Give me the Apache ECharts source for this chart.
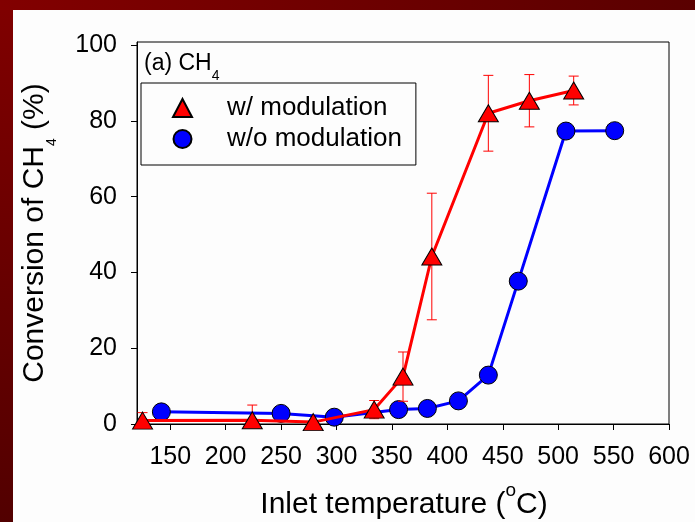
<!DOCTYPE html>
<html>
<head>
<meta charset="utf-8">
<script src="https://cdn.jsdelivr.net/npm/echarts@6/dist/echarts.min.js"></script>
<style>
  html, body { margin: 0; padding: 0; background: #fdfdfd; }
  #chart { width: 695px; height: 522px; }
</style>
</head>
<body>
<div id="chart"></div>
<script>
// w/ modulation (red triangles, with error bars)
const redX = [125, 224, 279, 334, 360, 386, 437, 474, 514]
const redY = [0.9, 1.0, 0.5, 3.8, 12.5, 44.2, 82.0, 85.3, 88.0]
const redErr = [2.1, 4.0, 0, 2.4, 6.5, 16.7, 10.0, 6.9, 3.8]

// w/o modulation (blue circles)
const blueX = [142, 250, 298, 356, 382, 410, 437, 464, 507, 551]
const blueY = [3.2, 2.8, 1.8, 3.8, 4.1, 6.1, 12.9, 37.7, 77.3, 77.4]

const xTicks = [150, 200, 250, 300, 350, 400, 450, 500, 550, 600]
const yTicks = [0, 20, 40, 60, 80, 100]

const FONT = '"Liberation Sans", Arial, sans-serif'

const redData = redX.map((x, i) => [x, redY[i]])
const blueData = blueX.map((x, i) => [x, blueY[i]])
const errData = redX
  .map((x, i) => [x, redY[i] - redErr[i], redY[i] + redErr[i], redErr[i]])
  .filter(d => d[3] > 0)

const chart = echarts.init(document.getElementById('chart'))

const option = {
  animation: false,
  backgroundColor: '#fdfdfd',
  textStyle: { fontFamily: FONT },
  grid: {
    left: 137,
    right: 26,
    top: 42,
    bottom: 98,
    show: true,
    borderColor: '#000',
    borderWidth: 1,
    outerBoundsMode: 'none'
  },
  legend: {
    orient: 'vertical',
    left: 141,
    top: 83,
    padding: [12, 14, 13, 31],
    itemGap: 5,
    itemWidth: 19,
    itemHeight: 18,
    selectedMode: false,
    borderColor: '#000',
    borderWidth: 1,
    textStyle: {
      fontFamily: FONT,
      fontSize: 26,
      color: '#000',
      padding: [0, 0, 0, 30]
    },
    data: [
      { name: 'w/ modulation', icon: 'triangle' },
      { name: 'w/o modulation', icon: 'circle' }
    ]
  },
  xAxis: {
    type: 'value',
    min: 120,
    max: 600,
    splitLine: { show: false },
    axisLine: { lineStyle: { color: '#000', width: 1 } },
    axisTick: {
      customValues: xTicks,
      length: 6,
      lineStyle: { color: '#000', width: 1 }
    },
    axisLabel: {
      customValues: xTicks,
      margin: 21,
      fontSize: 25,
      color: '#000',
      fontFamily: FONT
    }
  },
  yAxis: {
    type: 'value',
    min: 0,
    max: 100.8,
    splitLine: { show: false },
    axisLine: { show: true, lineStyle: { color: '#000', width: 1 } },
    axisTick: {
      show: true,
      customValues: yTicks,
      length: 6,
      lineStyle: { color: '#000', width: 1 }
    },
    axisLabel: {
      customValues: yTicks,
      margin: 20,
      fontSize: 25,
      color: '#000',
      fontFamily: FONT
    }
  },
  graphic: [
    // dark red frame strips
    {
      type: 'rect',
      left: 0, top: 0, z: 10,
      shape: { width: 13, height: 522 },
      style: {
        fill: new echarts.graphic.LinearGradient(0, 0, 0, 1, [
          { offset: 0, color: '#800000' },
          { offset: 1, color: '#520000' }
        ])
      }
    },
    {
      type: 'rect',
      left: 0, top: 0, z: 10,
      shape: { width: 695, height: 10 },
      style: {
        fill: new echarts.graphic.LinearGradient(0, 0, 1, 0, [
          { offset: 0, color: '#820000' },
          { offset: 1, color: '#5a0000' }
        ])
      }
    },
    // panel label
    {
      type: 'text',
      x: 144,
      y: 63.5,
      style: {
        text: '{b|(a) CH}{s|4}',
        align: 'left',
        verticalAlign: 'middle',
        fill: '#000',
        rich: {
          b: { fontFamily: FONT, fontSize: 23, lineHeight: 40, fill: '#000' },
          s: { fontFamily: FONT, fontSize: 14, lineHeight: 23, verticalAlign: 'bottom', fill: '#000' }
        }
      }
    },
    // x axis title
    {
      type: 'text',
      x: 404,
      y: 505,
      style: {
        text: '{b|Inlet temperature (}{p|o}{b|C)}',
        align: 'center',
        verticalAlign: 'middle',
        fill: '#000',
        rich: {
          b: { fontFamily: FONT, fontSize: 30, lineHeight: 48, fill: '#000' },
          p: { fontFamily: FONT, fontSize: 19, lineHeight: 18, verticalAlign: 'top', fill: '#000' }
        }
      }
    },
    // y axis title
    {
      type: 'text',
      x: 35,
      y: 233,
      rotation: Math.PI / 2,
      style: {
        text: '{b|Conversion of CH}{s|4}{b| (%)}',
        align: 'center',
        verticalAlign: 'middle',
        fill: '#000',
        rich: {
          b: { fontFamily: FONT, fontSize: 30, lineHeight: 48, fill: '#000' },
          s: { fontFamily: FONT, fontSize: 14, lineHeight: 22, verticalAlign: 'bottom', fill: '#000' }
        }
      }
    }
  ],
  series: [
    {
      name: 'w/o modulation',
      type: 'line',
      data: blueData,
      symbol: 'circle',
      symbolSize: 18,
      lineStyle: { color: '#0000ff', width: 3 },
      itemStyle: { color: '#0000ff', borderColor: '#000', borderWidth: 1 },
      z: 2
    },
    {
      name: 'err',
      type: 'custom',
      data: errData,
      encode: { x: 0, y: [1, 2] },
      clip: true,
      z: 3,
      renderItem(params, api) {
        const x = api.value(0)
        const top = api.coord([x, api.value(2)])
        const bot = api.coord([x, api.value(1)])
        const w = 5
        const st = { stroke: '#ff0000', lineWidth: 1 }
        return {
          type: 'group',
          children: [
            { type: 'line', shape: { x1: top[0], y1: top[1], x2: bot[0], y2: bot[1] }, style: st },
            { type: 'line', shape: { x1: top[0] - w, y1: top[1], x2: top[0] + w, y2: top[1] }, style: st },
            { type: 'line', shape: { x1: bot[0] - w, y1: bot[1], x2: bot[0] + w, y2: bot[1] }, style: st }
          ]
        }
      }
    },
    {
      name: 'w/ modulation',
      type: 'line',
      data: redData,
      symbol: 'triangle',
      symbolSize: [20, 17],
      lineStyle: { color: '#ff0000', width: 3 },
      itemStyle: { color: '#ff0000', borderColor: '#000', borderWidth: 1 },
      z: 4
    }
  ]
}

chart.setOption(option)
</script>
</body>
</html>
